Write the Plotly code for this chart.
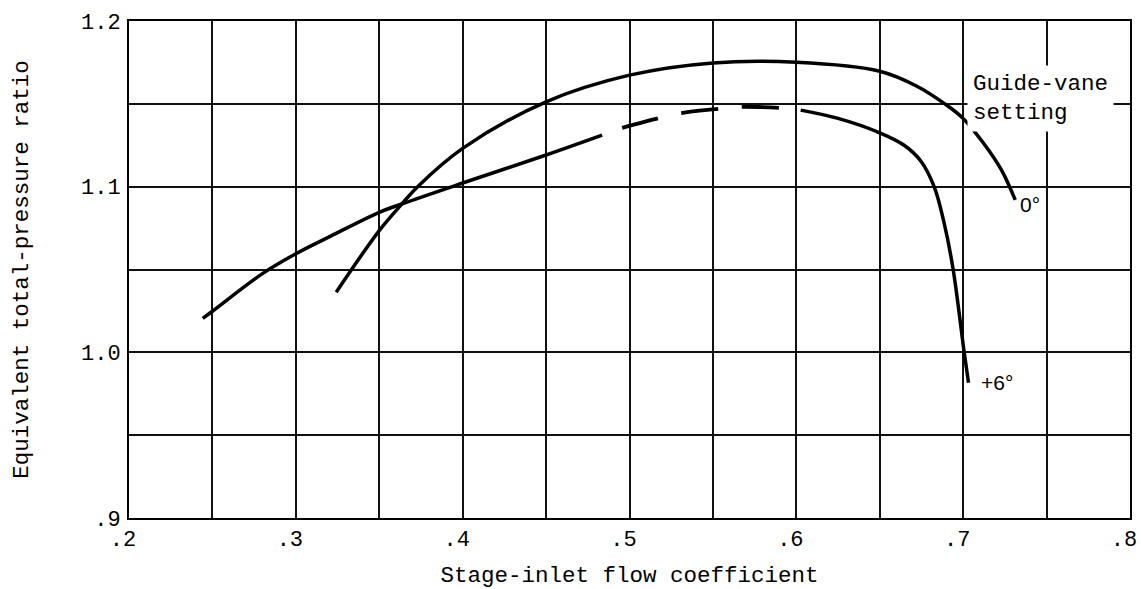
import plotly.graph_objects as go

# ---- data ----
zero_x = [0.3242, 0.35, 0.3636, 0.373, 0.40, 0.45, 0.50, 0.55, 0.60, 0.65, 0.672, 0.689, 0.70, 0.712, 0.723, 0.7312]
zero_y = [1.0363, 1.0735, 1.0896, 1.100, 1.1231, 1.1512, 1.1673, 1.1747, 1.1751, 1.1697, 1.1608, 1.150, 1.1412, 1.1265, 1.110, 1.092]

six_a_x = [0.2442, 0.25, 0.28, 0.30, 0.3206, 0.35, 0.3636, 0.40, 0.45, 0.4836]
six_a_y = [1.0205, 1.0248, 1.0475, 1.0595, 1.0700, 1.0845, 1.0896, 1.1022, 1.1191, 1.1311]

six_dash_x = [0.4956, 0.517, 0.532, 0.5516, 0.5662, 0.590]
six_dash_y = [1.1355, 1.1412, 1.1446, 1.1468, 1.1482, 1.1476]

six_b_x = [0.6026, 0.625, 0.65, 0.6646, 0.6746, 0.6826, 0.6886, 0.694, 0.7006, 0.7032]
six_b_y = [1.1462, 1.1412, 1.1325, 1.1250, 1.1155, 1.100, 1.078, 1.05, 1.0, 0.9816]

x_tickvals = [0.2, 0.3, 0.4, 0.5, 0.6, 0.7, 0.8]
x_ticktext = [".2", ".3", ".4", ".5", ".6", ".7", ".8"]
y_tickvals = [0.9, 1.0, 1.1, 1.2]
y_ticktext = [".9", "1.0", "1.1", "1.2"]

MONO = "Liberation Mono"
SANS = "Liberation Sans"
LINE = dict(color="black", width=3.5, shape="spline", smoothing=1.0)

fig = go.Figure()
fig.add_trace(go.Scatter(x=zero_x, y=zero_y, mode="lines", line=LINE, name="0°"))
fig.add_trace(go.Scatter(x=six_a_x, y=six_a_y, mode="lines", line=LINE, name="+6°"))
fig.add_trace(go.Scatter(x=six_dash_x, y=six_dash_y, mode="lines",
                         line=dict(color="black", width=3.8, shape="spline", smoothing=1.0,
                                   dash="37px,24px"), name="+6° (dashed)"))
fig.add_trace(go.Scatter(x=six_b_x, y=six_b_y, mode="lines", line=LINE, name="+6° "))

GRIDC = "#111"
grid = dict(showgrid=True, gridcolor=GRIDC, gridwidth=1.6,
            showline=True, linecolor="black", linewidth=2, mirror=True,
            ticks="", zeroline=False, automargin=False, ticklabeloverflow="allow",
            tickfont=dict(family=MONO, size=22, color="black"))

fig.update_xaxes(range=[0.2, 0.8], tickvals=x_tickvals, ticktext=x_ticktext,
                 ticklabelshift=-6,
                 minor=dict(dtick=0.05, tick0=0.2, showgrid=True, gridcolor=GRIDC, gridwidth=1.6),
                 title=dict(text="Stage-inlet flow coefficient", font=dict(family=MONO, size=22.5, color="black"),
                            standoff=15),
                 **grid)
fig.update_yaxes(range=[0.9, 1.2], tickvals=y_tickvals, ticktext=y_ticktext,
                 minor=dict(dtick=0.05, tick0=0.9, showgrid=True, gridcolor=GRIDC, gridwidth=1.6),
                 title=dict(text="Equivalent total-pressure ratio", font=dict(family=MONO, size=22.5, color="black"),
                            standoff=46),
                 ticklabelstandoff=2,
                 **grid)

fig.add_annotation(x=0.7025, y=1.153, xref="x", yref="y", xanchor="left", yanchor="middle",
                   text="Guide-vane<br>setting", align="left", showarrow=False,
                   font=dict(family=MONO, size=22.5, color="black"), bgcolor="white", borderpad=5)
fig.add_annotation(x=0.733, y=1.0895, xref="x", yref="y", xanchor="left", yanchor="middle",
                   text="0°", showarrow=False, font=dict(family=SANS, size=21, color="black"))
fig.add_annotation(x=0.7094, y=0.9818, xref="x", yref="y", xanchor="left", yanchor="middle",
                   text="+6°", showarrow=False, font=dict(family=SANS, size=21, color="black"))

fig.update_layout(width=1141, height=589, margin=dict(l=129, r=11, t=21, b=71),
                  paper_bgcolor="white", plot_bgcolor="white", showlegend=False)

fig.write_html("out.html")
